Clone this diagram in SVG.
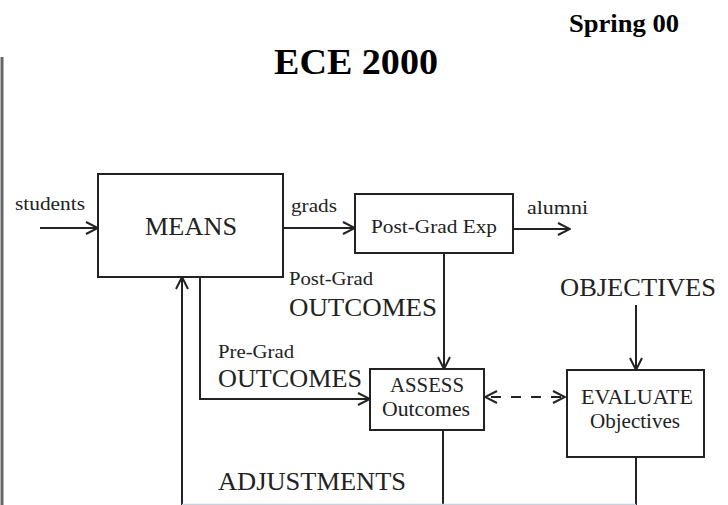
<svg xmlns="http://www.w3.org/2000/svg" width="728" height="505" viewBox="0 0 728 505">
<defs>
<style>
.box{fill:#fff;stroke:#222;stroke-width:2}
.ln{fill:none;stroke:#222;stroke-width:2}
.t{font-family:"Liberation Serif",Tinos,"Times New Roman",Times,serif;fill:#222}
.b{font-weight:bold;fill:#000}
</style>
<marker id="ah" viewBox="0 0 14 14" refX="13" refY="7" markerWidth="14" markerHeight="14" markerUnits="userSpaceOnUse" orient="auto-start-reverse">
<path d="M1,1 L13,7 L1,13" fill="none" stroke="#222" stroke-width="2"/>
</marker>
</defs>
<rect width="728" height="505" fill="#fff"/>
<line x1="2" y1="57" x2="2" y2="505" stroke="#666" stroke-width="3"/>
<text class="t b" x="569" y="32" font-size="25" textLength="110" lengthAdjust="spacingAndGlyphs">Spring 00</text>
<text class="t b" x="274" y="74" font-size="36" textLength="164" lengthAdjust="spacingAndGlyphs">ECE 2000</text>

<g id="connectors">
<line class="ln" x1="40" y1="228" x2="98" y2="228" marker-end="url(#ah)"/>
<line class="ln" x1="283" y1="228" x2="355" y2="228" marker-end="url(#ah)"/>
<line class="ln" x1="513" y1="229" x2="570" y2="229" marker-end="url(#ah)"/>
<line class="ln" x1="444" y1="253" x2="444" y2="369" marker-end="url(#ah)"/>
<line class="ln" x1="636" y1="305" x2="636" y2="370" marker-end="url(#ah)"/>
<line class="ln" x1="182" y1="505" x2="182" y2="277" marker-end="url(#ah)"/>
<polyline class="ln" points="200,277 200,399 370,399" marker-end="url(#ah)"/>
<line class="ln" x1="485" y1="397" x2="565" y2="397" stroke-dasharray="10,10" stroke-dashoffset="-6" marker-start="url(#ah)" marker-end="url(#ah)"/>
<line class="ln" x1="443" y1="430" x2="443" y2="505"/>
<line class="ln" x1="636" y1="457" x2="636" y2="505"/>
<line x1="182" y1="504.5" x2="636" y2="504.5" stroke="#c9d3de" stroke-width="1.5"/>
</g>

<g id="means">
<rect class="box" x="98" y="174" width="185" height="103"/>
<text class="t" x="145" y="235" font-size="25" textLength="92" lengthAdjust="spacingAndGlyphs">MEANS</text>
</g>
<g id="postgradexp">
<rect class="box" x="355" y="194" width="158" height="59"/>
<text class="t" x="371" y="233" font-size="19" textLength="126" lengthAdjust="spacingAndGlyphs">Post-Grad Exp</text>
</g>
<g id="assess">
<rect class="box" x="370" y="369" width="114" height="61"/>
<text class="t" x="390" y="392" font-size="20" textLength="74" lengthAdjust="spacingAndGlyphs">ASSESS</text>
<text class="t" x="382" y="416" font-size="20" textLength="88" lengthAdjust="spacingAndGlyphs">Outcomes</text>
</g>
<g id="evaluate">
<rect class="box" x="567" y="370" width="137" height="87"/>
<text class="t" x="581" y="404" font-size="20" textLength="112" lengthAdjust="spacingAndGlyphs">EVALUATE</text>
<text class="t" x="590" y="428" font-size="20" textLength="90" lengthAdjust="spacingAndGlyphs">Objectives</text>
</g>

<g id="labels">
<text class="t" x="15" y="210" font-size="19" textLength="70" lengthAdjust="spacingAndGlyphs">students</text>
<text class="t" x="291" y="212" font-size="19" textLength="46" lengthAdjust="spacingAndGlyphs">grads</text>
<text class="t" x="527" y="214" font-size="19" textLength="61" lengthAdjust="spacingAndGlyphs">alumni</text>
<text class="t" x="289" y="285" font-size="19" textLength="84" lengthAdjust="spacingAndGlyphs">Post-Grad</text>
<text class="t" x="289" y="316" font-size="25" textLength="148" lengthAdjust="spacingAndGlyphs">OUTCOMES</text>
<text class="t" x="560" y="296" font-size="25" textLength="156" lengthAdjust="spacingAndGlyphs">OBJECTIVES</text>
<text class="t" x="218" y="358" font-size="19" textLength="76" lengthAdjust="spacingAndGlyphs">Pre-Grad</text>
<text class="t" x="218" y="387" font-size="25" textLength="144" lengthAdjust="spacingAndGlyphs">OUTCOMES</text>
<text class="t" x="218" y="490" font-size="25" textLength="188" lengthAdjust="spacingAndGlyphs">ADJUSTMENTS</text>
</g>
</svg>
